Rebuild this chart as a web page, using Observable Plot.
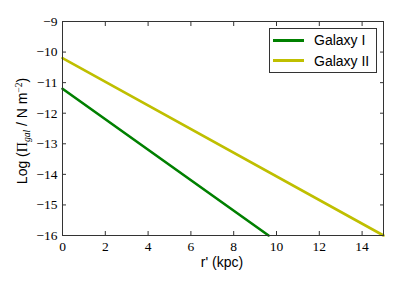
<!DOCTYPE html>
<html><head><meta charset="utf-8">
<script src="https://cdn.jsdelivr.net/npm/d3@7"></script>
<script src="https://cdn.jsdelivr.net/npm/@observablehq/plot@0.6"></script>
<style>
body{margin:0;background:#fff;}
#wrap{position:relative;width:399px;height:285px;}
#legend{position:absolute;left:269px;top:28px;width:108px;height:45px;box-sizing:border-box;border:1px solid #333;background:#fff;font-family:"Liberation Sans",Arial,sans-serif;font-size:14px;color:#000;}
#legend .row{position:absolute;left:0;height:16px;display:flex;align-items:center;white-space:nowrap;}
#legend .sw{width:31px;height:3px;margin-left:3px;margin-right:10px;}
</style>
</head><body>
<div id="wrap"><div id="legend"></div></div>
<script>
const series = ["Galaxy I", "Galaxy II"];
const colors = ["#008000", "#bfbf00"];
const rI = [0, 9.63];
const logI = [-11.2, -16];
const rII = [0, 15];
const logII = [-10.2, -16];
const xTicks = [0, 2, 4, 6, 8, 10, 12, 14];
const yTicks = [-16, -15, -14, -13, -12, -11, -10, -9];

const data = [
  ...rI.map((r, i) => ({series: series[0], r, v: logI[i]})),
  ...rII.map((r, i) => ({series: series[1], r, v: logII[i]}))
];
const fmt = d => String(d).replace("-", "\u2212");
const serif = "'Liberation Serif', 'DejaVu Serif', serif";

const chart = Plot.plot({
  width: 399, height: 285,
  marginLeft: 62, marginRight: 16, marginTop: 21, marginBottom: 50,
  style: {fontFamily: serif, fontSize: "13.5px", color: "#000", background: "#fff"},
  x: {domain: [0, 15]},
  y: {domain: [-16, -9]},
  color: {domain: series, range: colors},
  marks: [
    Plot.line(data, {x: "r", y: "v", z: "series", stroke: "series", strokeWidth: 2.6}),
    Plot.axisX(xTicks, {anchor: "bottom", tickSize: -4, tickPadding: 10, tickFormat: fmt, label: null, stroke: "#333"}),
    Plot.axisX(xTicks, {anchor: "top", tickSize: -4, tickFormat: null, text: null, label: null, stroke: "#333"}),
    Plot.axisY(yTicks, {anchor: "left", tickSize: -4, tickPadding: 9, tickFormat: fmt, label: null, stroke: "#333"}),
    Plot.axisY(yTicks, {anchor: "right", tickSize: -4, tickFormat: null, text: null, label: null, stroke: "#333"}),
    Plot.frame({stroke: "#333", strokeWidth: 1})
  ]
});
document.getElementById("wrap").prepend(chart);

const svg = d3.select(chart);
const sans = "'Liberation Sans', Arial, sans-serif";
svg.append("text")
  .attr("x", 222).attr("y", 267)
  .attr("text-anchor", "middle")
  .style("font-family", sans).style("font-size", "14px")
  .text("r' (kpc)");
const yl = svg.append("text")
  .attr("transform", "translate(27,131) rotate(-90)")
  .attr("text-anchor", "middle")
  .style("font-family", sans).style("font-size", "14px");
yl.append("tspan").text("Log (");
yl.append("tspan").style("font-family", serif).text("\u03A0");
yl.append("tspan").attr("dy", 3).style("font-size", "9.5px").style("font-family", serif).style("font-style", "italic").text("gal");
yl.append("tspan").attr("dy", -3).text(" / N m");
yl.append("tspan").attr("dy", -5).style("font-size", "9.5px").style("font-family", serif).text("\u22122");
yl.append("tspan").attr("dy", 5).text(")");

const legend = document.getElementById("legend");
series.forEach((s, i) => {
  const row = document.createElement("div");
  row.className = "row";
  row.style.top = (3 + i * 20.5) + "px";
  row.innerHTML = `<span class="sw" style="background:${colors[i]}"></span><span>${s}</span>`;
  legend.appendChild(row);
});
</script>
</body></html>
